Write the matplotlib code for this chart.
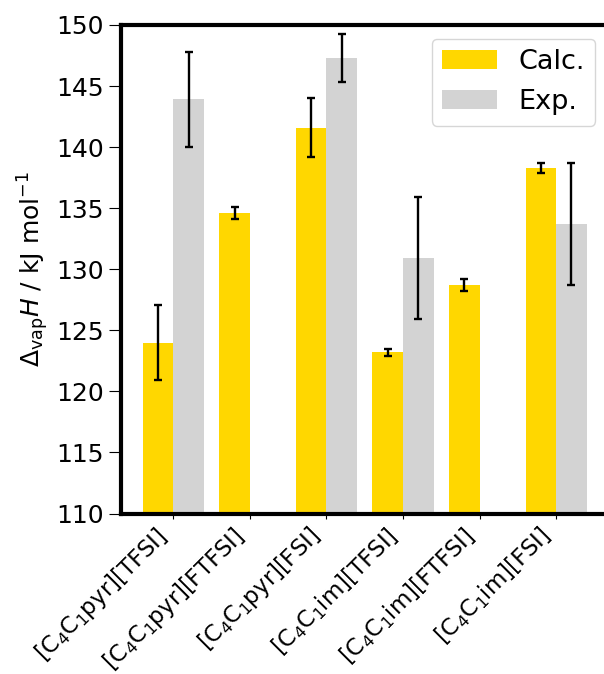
import numpy as np
import matplotlib.pyplot as plt

labels = [r'[C$_4$C$_1$pyr][TFSI]', r'[C$_4$C$_1$pyr][FTFSI]', r'[C$_4$C$_1$pyr][FSI]',
          r'[C$_4$C$_1$im][TFSI]', r'[C$_4$C$_1$im][FTFSI]', r'[C$_4$C$_1$im][FSI]']
calc = [124.0, 134.6, 141.6, 123.2, 128.7, 138.3]
calc_err = [3.1, 0.5, 2.4, 0.3, 0.5, 0.4]
exp = [143.9, np.nan, 147.3, 130.9, np.nan, 133.7]
exp_err = [3.9, np.nan, 2.0, 5.0, np.nan, 5.0]

W, H = 604, 674
fig = plt.figure(figsize=(W/100, H/100), dpi=100)
ax = fig.add_axes([120.5/W, 1-513.5/H, (609-120.5)/W, (513.5-25)/H])

x = np.arange(len(labels))
w = 0.4
ek = dict(elinewidth=1.7, capthick=1.7)
ax.bar(x - w/2, calc, w, yerr=calc_err, color='gold', label='Calc.', capsize=3, error_kw=ek)
ax.bar(x + w/2, exp, w, yerr=exp_err, color='lightgray', label='Exp.', capsize=3, error_kw=ek)

ax.set_ylim(110, 150)
ax.set_xlim(-0.69, 5.69)
ax.set_xticks(x)
ax.set_xticklabels(labels, rotation=45, ha='right', fontsize=16.5)
ax.tick_params(axis='y', labelsize=18, length=8.5)
ax.set_ylabel(r'$\Delta_{\rm vap}H$ / kJ mol$^{-1}$', fontsize=18)
for s in ax.spines.values():
    s.set_linewidth(3)
ax.legend(loc='upper right', fontsize=19.5)

fig.savefig('out.png', dpi=100)
